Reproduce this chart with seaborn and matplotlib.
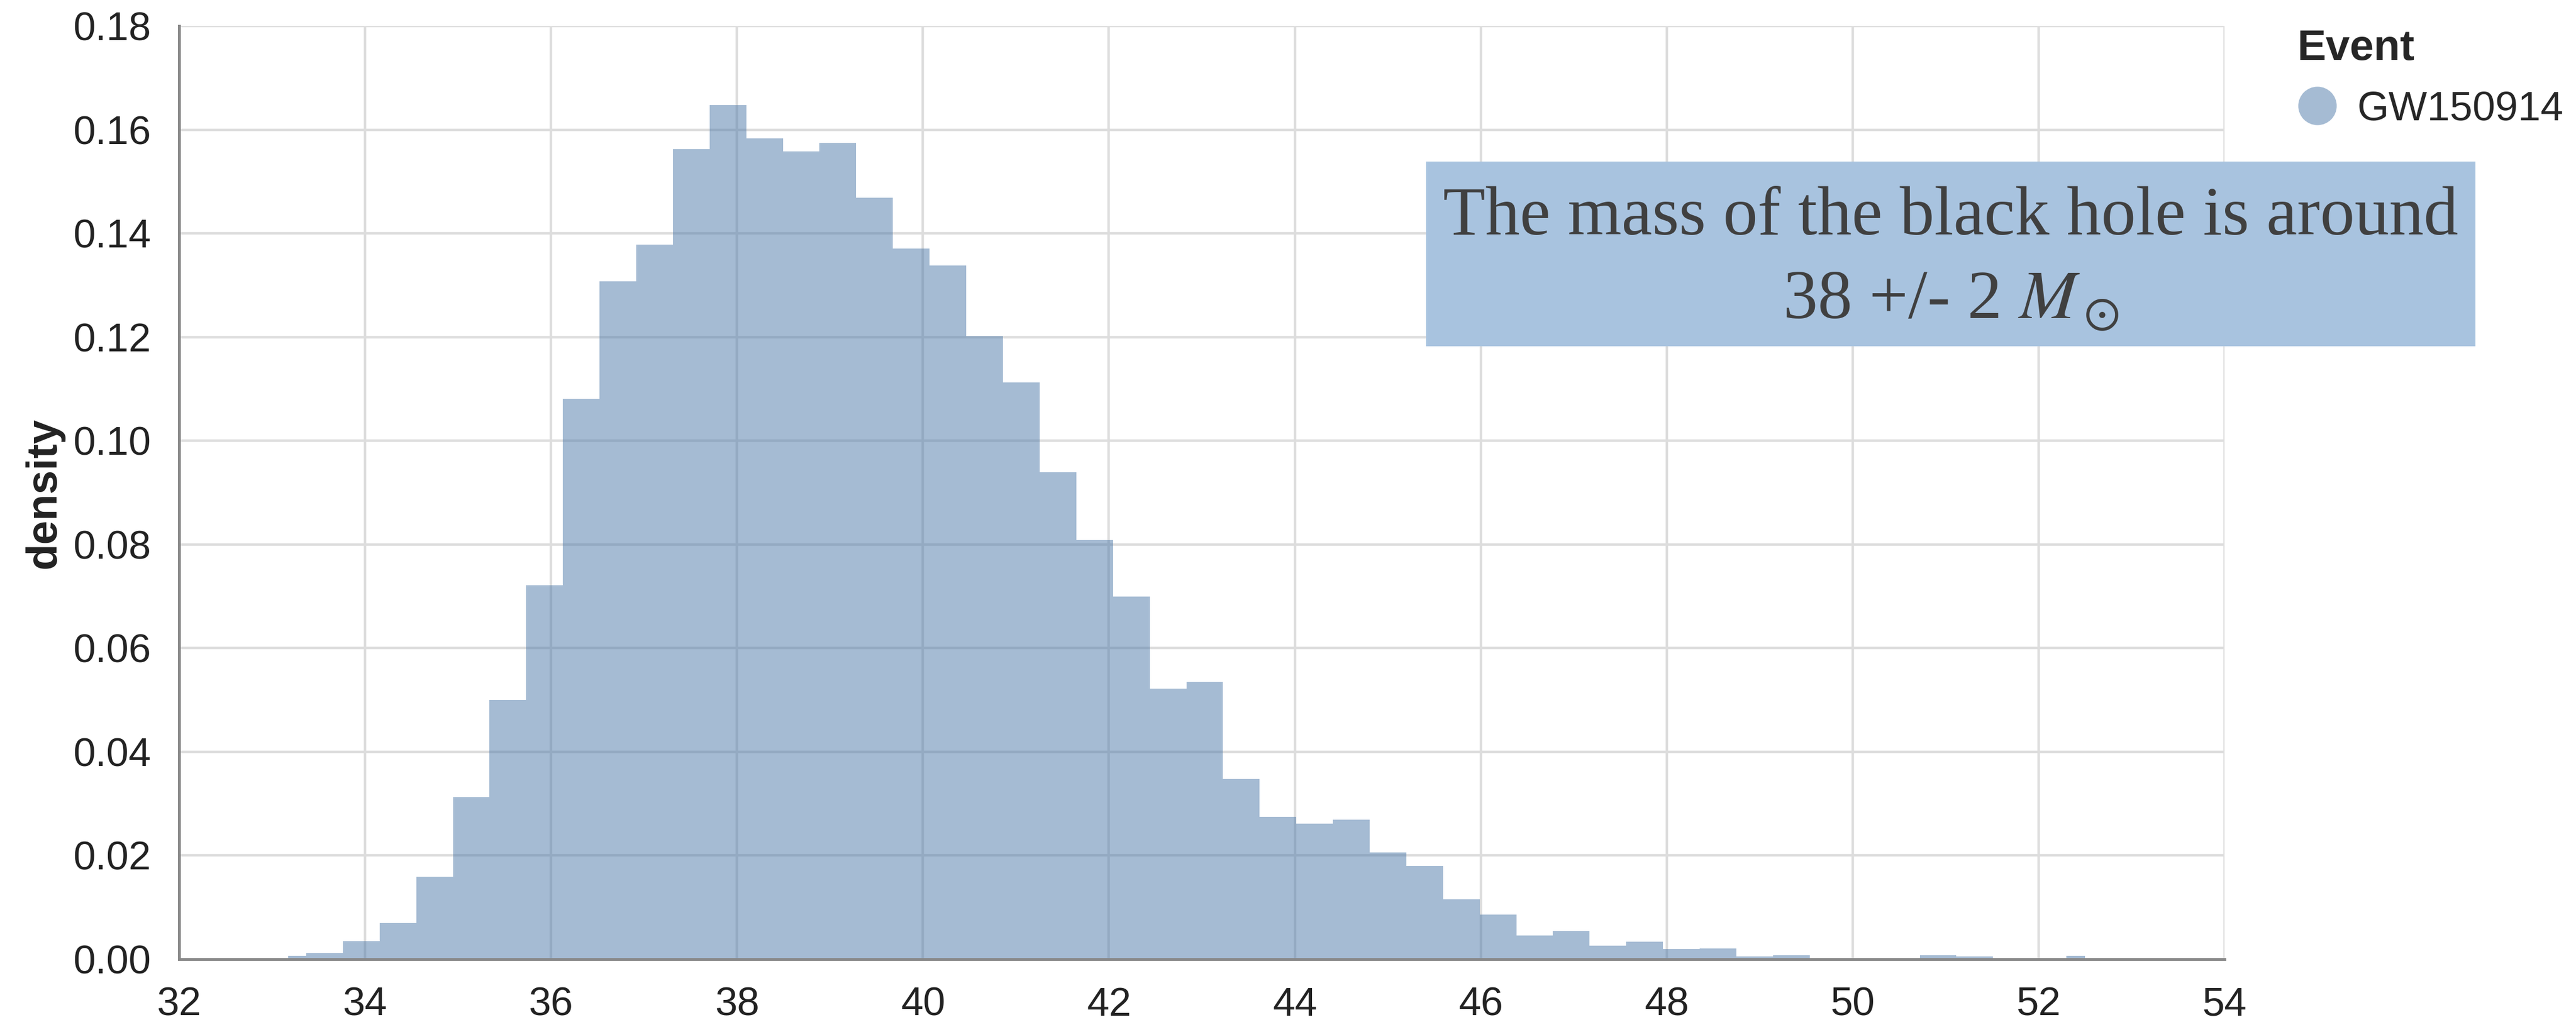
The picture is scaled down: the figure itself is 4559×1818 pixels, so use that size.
import numpy as np
import pandas as pd
import matplotlib
matplotlib.use("Agg")
import matplotlib.pyplot as plt
from matplotlib.lines import Line2D
from matplotlib.patches import Rectangle
from matplotlib.ticker import MultipleLocator, FormatStrFormatter
import seaborn as sns

# Posterior samples of the source mass, summarised as a 50-bin density histogram
bin_centers = [
    33.17, 33.56, 33.96, 34.35, 34.75, 35.14, 35.53, 35.93, 36.32, 36.72,
    37.11, 37.51, 37.90, 38.30, 38.69, 39.08, 39.48, 39.87, 40.27, 40.66,
    41.06, 41.45, 41.85, 42.24, 42.64, 43.03, 43.42, 43.82, 44.21, 44.61,
    45.00, 45.40, 45.79, 46.19, 46.58, 46.97, 47.37, 47.76, 48.16, 48.55,
    48.95, 49.34, 49.74, 50.13, 50.53, 50.92, 51.31, 51.71, 52.10, 52.50,
]
density = [
    0.0006, 0.0012, 0.0035, 0.0070, 0.0159, 0.0313, 0.0500, 0.0721, 0.1081, 0.1308,
    0.1378, 0.1563, 0.1648, 0.1583, 0.1558, 0.1575, 0.1469, 0.1371, 0.1338, 0.1202,
    0.1113, 0.0939, 0.0808, 0.0699, 0.0522, 0.0535, 0.0348, 0.0275, 0.0262, 0.0269,
    0.0206, 0.0180, 0.0115, 0.0086, 0.0046, 0.0054, 0.0026, 0.0034, 0.0020, 0.0021,
    0.0005, 0.0008, 0.0000, 0.0000, 0.0000, 0.0008, 0.0005, 0.0000, 0.0000, 0.0006,
]
event_names = ["GW150914"]
x_ticks = [32, 34, 36, 38, 40, 42, 44, 46, 48, 50, 52, 54]
y_ticks = [0.00, 0.02, 0.04, 0.06, 0.08, 0.10, 0.12, 0.14, 0.16, 0.18]
note_line1 = "The mass of the black hole is around"
note_line2 = r"38 +/- 2 $M_\odot$"

BASE = "#4c78a8"
AXIS_GREY = "#888888"
GRID_GREY = "#dddddd"

sns.set_style("white")
plt.rcParams["font.family"] = ["Liberation Sans", "DejaVu Sans"]
plt.rcParams["mathtext.fontset"] = "stix"

W, H, DPI = 4559, 1818, 100
fig = plt.figure(figsize=(W / DPI, H / DPI), dpi=DPI)
ax = fig.add_axes([317 / W, 1 - 1698 / H, (3937 - 317) / W, (1698 - 46) / H])

df = pd.DataFrame({"mass": bin_centers, "density": density,
                   "Event": event_names[0]})

# step curve: the first and last steps stop at the outer bin centres
c = np.asarray(bin_centers)
edges = [float(v) for v in
         np.concatenate([[c[0]], (c[:-1] + c[1:]) / 2, [c[-1]]])]
sns.histplot(data=df, x="mass", weights="density", bins=edges,
             stat="count", element="step", fill=True, color=BASE,
             alpha=0.5, linewidth=0, ax=ax)

ax.set_xlim(x_ticks[0], x_ticks[-1])
ax.set_ylim(y_ticks[0], y_ticks[-1])
ax.xaxis.set_major_locator(MultipleLocator(2))
ax.yaxis.set_major_locator(MultipleLocator(0.02))
ax.xaxis.set_major_formatter(FormatStrFormatter("%d"))
ax.yaxis.set_major_formatter(FormatStrFormatter("%.2f"))

ax.set_axisbelow(True)
ax.grid(True, color=GRID_GREY, linewidth=3.2)
for side in ("top", "right"):
    ax.spines[side].set_visible(False)
for side in ("left", "bottom"):
    ax.spines[side].set_color(AXIS_GREY)
    ax.spines[side].set_linewidth(3.6)
ax.tick_params(axis="both", direction="out", length=28, width=3.6,
               color=AXIS_GREY, labelsize=51, labelcolor="#222222")
ax.tick_params(axis="x", pad=7)
ax.tick_params(axis="y", pad=8)

ax.set_xlabel("")
ax.set_ylabel("density", fontsize=55, fontweight="bold", color="#222222")
ax.yaxis.set_label_coords(-0.056, 0.5)

# legend
handle = Line2D([], [], marker="o", linestyle="", markersize=49,
                markerfacecolor=(0.298, 0.471, 0.659, 0.5), markeredgewidth=0)
fig.legend(handles=[handle], labels=event_names, title="Event",
           loc="upper left", bbox_to_anchor=(4066 / W, 1 - 51 / H),
           frameon=False, borderpad=0, borderaxespad=0, handlelength=0.97,
           handletextpad=0.49, labelspacing=0.53, fontsize=52,
           title_fontproperties={"weight": "bold", "size": 55},
           alignment="left")

# annotation box
x0, x1 = 2524 / W, 4381 / W
y_top, y_bot = 1 - 286 / H, 1 - 613 / H
fig.patches.append(Rectangle((x0, y_bot), x1 - x0, y_top - y_bot,
                             transform=fig.transFigure, facecolor="#a8c3df",
                             edgecolor="none", zorder=5))
xc = (x0 + x1) / 2
fig.text(xc, 1 - 415 / H, note_line1, ha="center", va="baseline",
         family="Liberation Serif", fontsize=88, color="#404040", zorder=6)
fig.text(xc, 1 - 563 / H, note_line2, ha="center", va="baseline",
         family="Liberation Serif", fontsize=88, color="#404040", zorder=6)

fig.savefig("out.png", dpi=DPI, facecolor="white")
